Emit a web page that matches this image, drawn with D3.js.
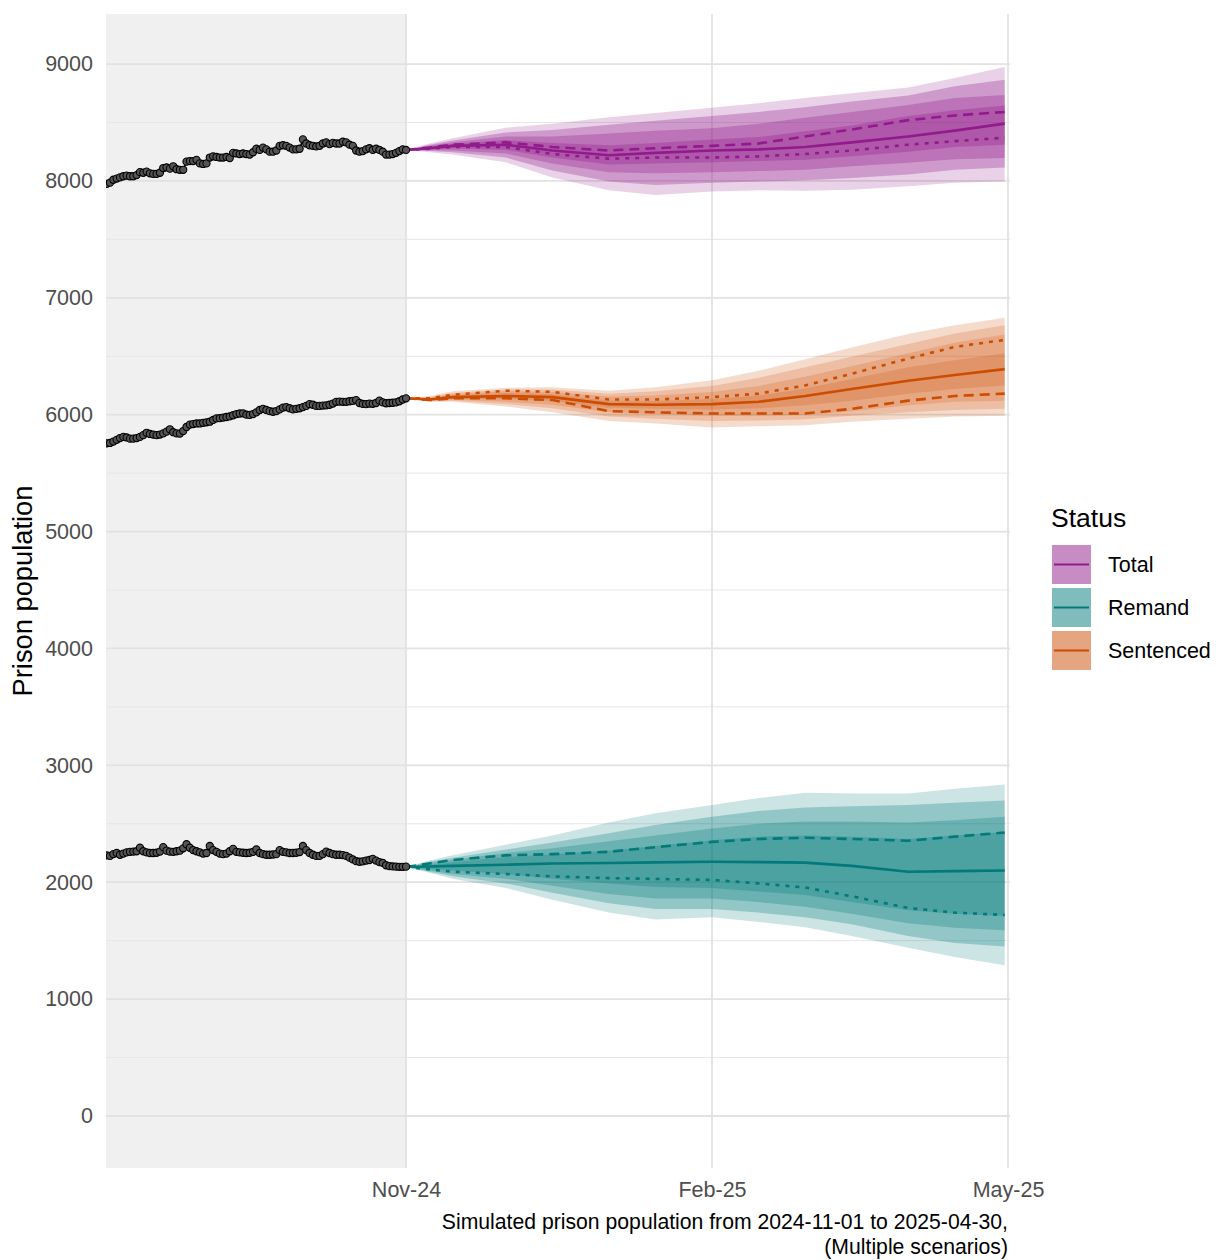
<!DOCTYPE html>
<html><head><meta charset="utf-8">
<script src="https://cdn.jsdelivr.net/npm/d3@7"></script>
<style>
body{margin:0;background:#fff;}
svg text{font-family:"Liberation Sans",Arial,sans-serif;}
</style></head>
<body><svg id="chart" width="1221" height="1260"></svg>
<script>
// ---------------- DATA ----------------
const histStart = "2024-08-03"; // daily observations to 2024-11-01
const totalHist = [7975,7985,8010,8020,8030,8040,8045,8040,8040,8050,8075,8070,8080,8065,8060,8060,8070,8110,8115,8105,8125,8100,8095,8095,8165,8170,8170,8180,8150,8145,8150,8200,8210,8205,8200,8200,8205,8195,8240,8235,8230,8235,8230,8225,8245,8275,8265,8285,8270,8250,8250,8260,8300,8305,8300,8285,8270,8270,8275,8355,8320,8305,8300,8295,8300,8320,8330,8315,8325,8320,8320,8335,8330,8310,8300,8260,8250,8255,8270,8280,8265,8275,8265,8250,8225,8225,8230,8240,8255,8270,8265];
const sentencedHist = [5755,5758,5770,5785,5800,5810,5805,5795,5795,5800,5810,5825,5845,5835,5830,5825,5830,5840,5855,5875,5850,5840,5838,5860,5895,5915,5920,5925,5925,5930,5935,5940,5955,5968,5970,5975,5980,5985,5995,6005,6010,6012,6000,5998,6005,6020,6040,6050,6040,6030,6025,6030,6045,6060,6065,6055,6045,6050,6055,6065,6075,6090,6085,6075,6075,6078,6080,6085,6095,6110,6112,6110,6110,6115,6118,6125,6100,6092,6090,6095,6093,6100,6120,6105,6098,6100,6102,6105,6115,6130,6140];
const remandHist = [2230,2225,2240,2250,2235,2245,2255,2260,2262,2265,2295,2265,2255,2250,2250,2252,2262,2300,2270,2262,2260,2265,2270,2290,2325,2295,2275,2265,2255,2245,2250,2310,2275,2260,2245,2240,2245,2265,2285,2260,2255,2252,2250,2252,2260,2280,2250,2240,2235,2235,2237,2240,2275,2260,2255,2250,2250,2252,2258,2310,2275,2250,2235,2225,2225,2240,2262,2250,2240,2235,2235,2232,2225,2210,2195,2180,2175,2178,2185,2190,2200,2185,2172,2165,2145,2138,2135,2133,2132,2132,2133];

const fcDates = ["2024-11-01","2024-11-08","2024-11-15","2024-12-01","2024-12-15","2025-01-01","2025-01-15","2025-02-01","2025-02-15","2025-03-01","2025-03-15","2025-04-01","2025-04-15","2025-04-30"];

// Total
const totalSolid  = [8265,8280,8300,8310,8260,8220,8240,8260,8270,8290,8330,8380,8430,8490];
const totalDashed = [8265,8285,8310,8330,8290,8260,8280,8300,8320,8380,8440,8520,8560,8590];
const totalDotted = [8265,8275,8290,8290,8230,8190,8200,8200,8210,8230,8260,8310,8340,8370];
const totalOuterUp = [8265,8320,8365,8455,8490,8545,8580,8625,8665,8710,8750,8800,8880,8975];
const totalOuterLo = [8265,8245,8225,8160,8030,7920,7880,7910,7920,7915,7925,7955,7985,7995];
const totalMidUp   = [8265,8310,8345,8415,8435,8480,8515,8555,8590,8630,8680,8730,8810,8865];
const totalMidLo   = [8265,8255,8245,8200,8090,7995,7965,7985,7995,8005,8025,8055,8095,8115];
const totalInUp    = [8265,8300,8330,8380,8380,8405,8430,8450,8490,8540,8590,8650,8710,8735];
const totalInLo    = [8265,8262,8260,8235,8150,8075,8065,8075,8085,8095,8125,8155,8185,8195];
const totalCoreUp  = [8265,8292,8315,8350,8325,8305,8325,8355,8375,8425,8475,8555,8605,8645];
const totalCoreLo  = [8265,8268,8280,8265,8200,8140,8150,8160,8170,8180,8210,8250,8290,8310];

// Sentenced
const sentSolid  = [6140,6130,6150,6160,6150,6090,6085,6090,6110,6160,6220,6290,6340,6390];
const sentDotted = [6140,6140,6170,6205,6195,6130,6130,6150,6180,6250,6350,6480,6580,6640];
const sentDashed = [6140,6125,6140,6140,6125,6030,6020,6010,6010,6010,6050,6120,6160,6180];
const sentOuterUp = [6140,6160,6200,6230,6235,6205,6235,6295,6375,6475,6575,6690,6765,6830];
const sentOuterLo = [6140,6110,6110,6070,6020,5945,5925,5890,5900,5910,5940,5965,5985,5990];
const sentMidUp   = [6140,6150,6185,6215,6215,6180,6200,6245,6315,6405,6495,6605,6695,6765];
const sentMidLo   = [6140,6115,6120,6090,6055,5985,5965,5945,5950,5960,5990,6020,6040,6050];
const sentInUp    = [6140,6145,6175,6200,6195,6155,6165,6195,6245,6325,6415,6525,6615,6685];
const sentInLo    = [6140,6120,6128,6110,6085,6020,6005,5990,5990,6000,6030,6080,6110,6120];
const sentCoreUp  = [6140,6138,6165,6185,6175,6120,6118,6135,6165,6225,6305,6405,6465,6525];
const sentCoreLo  = [6140,6125,6135,6135,6120,6060,6050,6045,6055,6080,6120,6180,6220,6250];

// Remand
const remSolid  = [2130,2135,2140,2150,2160,2165,2170,2175,2172,2168,2140,2090,2095,2100];
const remDashed = [2130,2160,2190,2230,2240,2260,2300,2345,2370,2380,2370,2355,2390,2425];
const remDotted = [2130,2110,2090,2070,2050,2035,2028,2020,1990,1955,1880,1780,1740,1720];
const remOuterUp = [2130,2185,2230,2320,2400,2510,2590,2660,2720,2765,2760,2760,2800,2835];
const remOuterLo = [2130,2080,2030,1950,1850,1740,1680,1700,1660,1615,1540,1440,1360,1290];
const remMidUp   = [2130,2175,2210,2280,2340,2420,2490,2560,2610,2640,2650,2660,2680,2700];
const remMidLo   = [2130,2090,2050,1990,1910,1820,1770,1770,1740,1700,1640,1540,1480,1450];
const remInUp    = [2130,2165,2190,2250,2290,2350,2400,2460,2500,2520,2520,2510,2530,2560];
const remInLo    = [2130,2100,2070,2030,1970,1900,1860,1860,1830,1790,1730,1650,1610,1590];
const remCoreUp  = [2130,2150,2170,2215,2240,2270,2310,2360,2390,2400,2390,2370,2400,2430];
const remCoreLo  = [2130,2115,2100,2070,2030,1990,1960,1950,1920,1890,1830,1760,1730,1710];

const statusNames = ["Total","Remand","Sentenced"];
const statusColors = ["#911A8C","#017A79","#CC4C02"];
const yMajorTicks = [0,1000,2000,3000,4000,5000,6000,7000,8000,9000];
const yMinorTicks = [500,1500,2500,3500,4500,5500,6500,7500,8500];
const xTickDates = ["2024-11-01","2025-02-01","2025-05-01"];
const xTitle1 = "Simulated prison population from 2024-11-01 to 2025-04-30,";
const xTitle2 = "(Multiple scenarios)";
const yTitle = "Prison population";
const legendTitle = "Status";

// ---------------- CHART ----------------
const svg = d3.select("#chart");
const L = 106, R = 1010, T = 14, B = 1168;
const parse = d3.utcParse("%Y-%m-%d");
const x = d3.scaleUtc().domain([parse("2024-08-03"), parse("2025-05-01")]).range([106.7, 1008]);
const y = d3.scaleLinear().domain([-445, 9428]).range([B, T]);

svg.append("defs").append("clipPath").attr("id","clip")
  .append("rect").attr("x",L).attr("y",T).attr("width",R-L).attr("height",B-T);

svg.append("rect").attr("x",L).attr("y",T).attr("width",x(parse("2024-11-01"))-L).attr("height",B-T).attr("fill","#F0F0F0");

const grid = svg.append("g");
grid.selectAll(".ymin").data(yMinorTicks).join("line")
  .attr("x1",L).attr("x2",R).attr("y1",d=>y(d)).attr("y2",d=>y(d))
  .attr("stroke","#E6E6E6").attr("stroke-width",1);
grid.selectAll(".ymaj").data(yMajorTicks).join("line")
  .attr("x1",L).attr("x2",R).attr("y1",d=>y(d)).attr("y2",d=>y(d))
  .attr("stroke","#E2E2E2").attr("stroke-width",1.8);
grid.selectAll(".xmaj").data(xTickDates.map(parse)).join("line")
  .attr("x1",d=>x(d)).attr("x2",d=>x(d)).attr("y1",T).attr("y2",B)
  .attr("stroke","#E2E2E2").attr("stroke-width",1.8);

const fd = fcDates.map(parse);
const series = [
  {name:"Total", color:statusColors[0], op:[0.2,0.3,0.3,0.3], solid:totalSolid, dashed:totalDashed, dotted:totalDotted,
   bands:[[totalOuterLo,totalOuterUp],[totalMidLo,totalMidUp],[totalInLo,totalInUp],[totalCoreLo,totalCoreUp]], hist:totalHist},
  {name:"Sentenced", color:statusColors[2], op:[0.2,0.2,0.2,0.2], solid:sentSolid, dashed:sentDashed, dotted:sentDotted,
   bands:[[sentOuterLo,sentOuterUp],[sentMidLo,sentMidUp],[sentInLo,sentInUp],[sentCoreLo,sentCoreUp]], hist:sentencedHist},
  {name:"Remand", color:statusColors[1], op:[0.2,0.28,0.28,0.28], solid:remSolid, dashed:remDashed, dotted:remDotted,
   bands:[[remOuterLo,remOuterUp],[remMidLo,remMidUp],[remInLo,remInUp],[remCoreLo,remCoreUp]], hist:remandHist}
];

const plot = svg.append("g").attr("clip-path","url(#clip)");
const area = d3.area().x(d=>x(d.date)).y0(d=>y(d.lo)).y1(d=>y(d.hi));
const line = d3.line().x(d=>x(d.date)).y(d=>y(d.v));

series.forEach(s=>{
  s.bands.forEach((b,i)=>{
    const data = fd.map((dt,k)=>({date:dt, lo:b[0][k], hi:b[1][k]}));
    plot.append("path").datum(data).attr("d",area).attr("fill",s.color).attr("fill-opacity",s.op[i]);
  });
});
series.forEach(s=>{
  [["dashed","10,6"],["dotted","4,6"],["solid",null]].forEach(([k,dash])=>{
    const data = fd.map((dt,i)=>({date:dt, v:s[k][i]}));
    const p = plot.append("path").datum(data).attr("d",line).attr("fill","none")
      .attr("stroke",s.color).attr("stroke-width",2.6).attr("stroke-linejoin","round");
    if(dash) p.attr("stroke-dasharray",dash);
  });
});
const hs = parse(histStart);
series.forEach(s=>{
  const data = s.hist.map((v,i)=>({date:d3.utcDay.offset(hs,i), v}));
  plot.append("path").datum(data).attr("d",line).attr("fill","none").attr("stroke","#000").attr("stroke-width",1.6);
  plot.append("g").selectAll("circle").data(data).join("circle")
    .attr("cx",d=>x(d.date)).attr("cy",d=>y(d.v)).attr("r",3.6)
    .attr("fill","#555").attr("stroke","#000").attr("stroke-width",1.1);
});

// axes
const yAxis = svg.append("g").attr("transform",`translate(${L},0)`)
  .call(d3.axisLeft(y).tickValues(yMajorTicks).tickFormat(d3.format("d")).tickSize(0).tickPadding(13));
yAxis.select(".domain").remove();
yAxis.selectAll("text").attr("font-size",21.5).attr("fill","#4D4D4D").attr("font-family","Liberation Sans, Arial, sans-serif");

const xAxis = svg.append("g").attr("transform",`translate(0,${B})`)
  .call(d3.axisBottom(x).tickValues(xTickDates.map(parse)).tickFormat(d3.utcFormat("%b-%y")).tickSize(0).tickPadding(14));
xAxis.select(".domain").remove();
xAxis.selectAll("text").attr("font-size",21.5).attr("fill","#4D4D4D").attr("font-family","Liberation Sans, Arial, sans-serif");

svg.append("text").attr("x",1008).attr("y",1229).attr("text-anchor","end").attr("font-size",21.2).attr("fill","#000").text(xTitle1);
svg.append("text").attr("x",1008).attr("y",1254).attr("text-anchor","end").attr("font-size",21.2).attr("fill","#000").text(xTitle2);
svg.append("text").attr("transform","translate(32,591) rotate(-90)").attr("text-anchor","middle").attr("font-size",27.3).attr("fill","#000").text(yTitle);

// legend
const lg = svg.append("g");
lg.append("text").attr("x",1051).attr("y",527).attr("font-size",26.5).attr("fill","#000").text(legendTitle);
statusNames.forEach((n,i)=>{
  const ky = 545 + i*43;
  lg.append("rect").attr("x",1052).attr("y",ky).attr("width",39).attr("height",39)
    .attr("fill",statusColors[i]).attr("fill-opacity",0.5);
  lg.append("line").attr("x1",1054).attr("x2",1089).attr("y1",ky+19.5).attr("y2",ky+19.5)
    .attr("stroke",statusColors[i]).attr("stroke-width",2.2);
  lg.append("text").attr("x",1108).attr("y",ky+19.5).attr("dy","0.35em").attr("font-size",21.5).attr("fill","#000").text(n);
});
</script></body></html>
